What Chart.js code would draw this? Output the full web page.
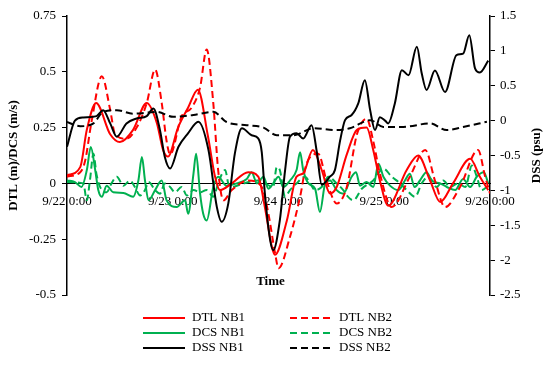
<!DOCTYPE html>
<html>
<head>
<meta charset="utf-8">
<script src="https://cdn.jsdelivr.net/npm/chart.js"></script>
<style>
  body { margin: 0; background: #fff; }
  #wrap { width: 550px; height: 365px; position: relative; }
</style>
</head>
<body>
<div id="wrap"><canvas id="grafico"></canvas></div>
<script>
// eje x en horas desde 9/22 0:00
const xTickHours = [0, 24, 48, 72, 96];
const xTickLabels = ["9/22 0:00", "9/23 0:00", "9/24 0:00", "9/25 0:00", "9/26 0:00"];
const leftTicks = [-0.5, -0.25, 0, 0.25, 0.5, 0.75];
const leftTickLabels = ["-0.5", "-0.25", "0", "0.25", "0.5", "0.75"];
const rightTicks = [-2.5, -2, -1.5, -1, -0.5, 0, 0.5, 1, 1.5];
const rightTickLabels = ["-2.5", "-2", "-1.5", "-1", "-0.5", "0", "0.5", "1", "1.5"];

const dtlNb1Hours = [0, 3.0, 4.5, 6.6, 9.8, 12.0, 15.0, 18.1, 20.4, 21.8, 22.9, 25.2, 27.5, 29.7, 32.0, 33.6, 34.7, 37.4, 41.1, 43.4, 44.9, 46.5, 47.2, 49.9, 52.1, 53.6, 55.8, 57.8, 59.7, 61.2, 63.5, 65.8, 68.0, 69.5, 71.0, 72.9, 77.1, 79.7, 82.4, 84.7, 87.6, 91.5, 93.7, 95.6];
const dtlNb1 = [0.036, 0.073, 0.24, 0.36, 0.22, 0.185, 0.24, 0.36, 0.27, 0.15, 0.12, 0.25, 0.34, 0.42, 0.21, 0.03, -0.03, 0, 0.05, 0.03, -0.106, -0.285, -0.32, -0.166, 0.03, 0.045, 0.15, 0.06, -0.045, -0.016, 0.13, 0.24, 0.25, 0.15, 0.013, -0.1, 0.06, 0.125, 0.013, -0.083, 0, 0.11, 0.03, -0.03];

const dtlNb2Hours = [0, 3.0, 4.1, 5.6, 7.9, 9.8, 10.9, 13.5, 15.8, 18.1, 20.0, 21.5, 22.6, 23.4, 26.0, 28.3, 30.2, 31.7, 33.2, 34.3, 35.5, 37.4, 41.1, 44.2, 45.7, 47.2, 48.0, 50.6, 52.9, 54.4, 57.0, 58.9, 61.2, 63.5, 65.8, 68.0, 69.5, 71.0, 73.7, 77.8, 81.3, 83.5, 85.8, 89.2, 93.3, 94.9, 96.0];
const dtlNb2 = [0.03, 0.05, 0.1, 0.28, 0.48, 0.33, 0.22, 0.2, 0.25, 0.36, 0.51, 0.36, 0.19, 0.13, 0.3, 0.34, 0.43, 0.6, 0.36, 0.06, -0.076, -0.03, 0.013, -0.016, -0.135, -0.31, -0.38, -0.24, -0.06, 0.09, 0.133, 0.013, -0.09, -0.016, 0.22, 0.29, 0.19, 0.045, -0.106, 0.03, 0.15, 0.013, -0.106, -0.016, 0.15, 0.03, -0.045];

const dcsNb1Hours = [0, 1.8, 3.3, 4.5, 5.4, 6.4, 7.1, 7.9, 9.0, 10.5, 12.8, 15.0, 16.2, 17.0, 17.7, 18.5, 20.0, 21.5, 22.6, 24.9, 26.8, 27.5, 28.7, 29.3, 30.2, 30.9, 31.7, 33.2, 34.3, 36.2, 38.5, 40.8, 41.9, 43.1, 44.6, 45.7, 46.8, 48.0, 49.1, 50.6, 52.1, 52.9, 53.6, 54.8, 56.3, 57.4, 58.6, 59.7, 61.2, 62.7, 64.6, 65.6, 66.5, 68.0, 69.5, 70.7, 71.8, 73.3, 75.2, 76.7, 77.8, 78.9, 80.1, 81.6, 82.8, 84.7, 86.2, 88.1, 89.9, 91.5, 93.0, 94.6, 95.6];
const dcsNb1 = [0.013, 0.006, -0.016, 0.06, 0.163, 0.06, -0.03, -0.06, -0.01, -0.04, -0.043, -0.06, 0.013, 0.118, 0.013, -0.076, -0.03, 0.013, -0.076, -0.106, -0.076, -0.136, 0.043, 0.133, -0.046, -0.135, -0.166, -0.016, 0.03, -0.01, 0, 0.02, 0.05, 0, 0.03, -0.024, 0, 0.03, -0.016, 0.013, 0.06, 0.14, 0.06, 0, -0.024, -0.128, 0, 0.013, -0.03, -0.046, 0.03, 0.05, -0.01, 0.006, -0.016, 0.088, 0.03, -0.01, -0.03, 0.013, 0.043, -0.016, 0.013, 0.05, 0.013, 0, -0.016, -0.03, 0.02, -0.016, 0.03, 0.05, 0];

const dcsNb2Hours = [0, 3.7, 4.5, 5.2, 6.0, 6.7, 7.9, 9.0, 10.1, 11.3, 12.8, 14.3, 15.4, 16.6, 17.7, 18.5, 20.0, 21.1, 22.2, 23.4, 24.5, 26.0, 27.2, 28.7, 30.2, 31.7, 33.2, 34.3, 35.1, 35.9, 36.6, 37.4, 40.0, 43.4, 46.8, 47.6, 48.3, 49.5, 50.6, 52.1, 54.0, 55.2, 56.3, 57.8, 59.3, 61.2, 62.7, 63.5, 65.0, 66.9, 69.5, 71.8, 73.7, 75.6, 77.1, 79.0, 80.5, 82.0, 83.9, 85.4, 86.9, 88.8, 90.4, 91.9, 93.0, 94.1, 95.3];
const dcsNb2 = [0.006, 0, -0.076, 0.013, 0.133, 0.04, -0.03, -0.04, 0, 0.03, -0.01, 0.013, -0.016, -0.054, -0.03, 0.006, -0.03, -0.046, 0, -0.016, -0.04, -0.016, -0.054, -0.03, -0.04, -0.03, -0.06, 0, 0.04, 0.06, 0, -0.016, 0, 0.013, -0.016, 0.073, 0.06, -0.06, -0.03, 0, 0.03, 0, -0.03, -0.016, 0.03, 0, -0.03, -0.054, -0.076, -0.024, 0.013, 0.066, 0.03, 0, -0.03, -0.06, 0, 0.03, -0.016, 0.013, -0.016, 0, -0.016, 0.08, 0.03, -0.03, -0.016];

const dssNb1Hours = [0, 1.8, 3.7, 6.7, 8.2, 9.8, 11.3, 13.5, 15.8, 18.1, 19.6, 21.1, 22.2, 23.4, 25.3, 27.5, 29.8, 32.1, 34.0, 35.1, 36.6, 38.1, 39.7, 41.9, 43.4, 44.2, 44.9, 46.1, 46.8, 48.3, 49.5, 50.6, 52.1, 53.6, 55.5, 56.7, 57.8, 59.7, 60.8, 62.0, 63.1, 64.6, 66.1, 67.6, 68.8, 69.9, 71.0, 72.2, 72.9, 74.4, 76.0, 77.5, 79.4, 80.5, 81.6, 83.5, 85.8, 88.4, 89.9, 91.3, 92.6, 93.7, 95.6];
const dssNb1 = [-0.375, 0, 0.046, 0.065, 0.15, -0.04, -0.23, -0.04, 0.03, 0.065, 0.175, -0.136, -0.52, -0.685, -0.375, -0.18, -0.017, -0.42, -1.236, -1.45, -1.19, -0.47, -0.11, -0.21, -0.255, -0.45, -1.04, -1.71, -1.857, -1.43, -0.71, -0.23, -0.18, -0.255, -0.065, -0.45, -0.92, -0.8, -0.71, -0.28, 0.007, 0.08, 0.246, 0.58, 0.15, -0.136, 0.05, 0, -0.04, 0.246, 0.724, 0.65, 1.06, 0.68, 0.44, 0.72, 0.41, 0.94, 0.96, 1.225, 0.75, 0.69, 0.86];

const dssNb2Hours = [0, 3.0, 6.0, 8.2, 11.3, 15.0, 20.4, 24.1, 28.7, 33.2, 36.2, 40.8, 44.6, 47.6, 51.4, 55.9, 61.2, 64.2, 68.8, 71.8, 76.3, 82.4, 86.2, 89.9, 95.3];
const dssNb2 = [-0.02, -0.08, -0.04, 0.126, 0.15, 0.1, 0.126, 0.055, 0.08, 0.126, -0.02, -0.065, -0.1, -0.21, -0.21, -0.11, -0.136, -0.11, 0.007, -0.09, -0.09, -0.04, -0.136, -0.09, -0.017];

const fuente = "'Liberation Serif', 'Times New Roman', serif";
const rojo = "#ff0000";
const verde = "#00b050";
const negro = "#000000";
const guiones = [7, 4];

function puntos(horas, valores) {
    return horas.map((h, i) => ({ x: h, y: valores[i] }));
}

function serie(label, horas, valores, color, dashed, eje) {
    return {
        label: label,
        data: puntos(horas, valores),
        borderColor: color,
        backgroundColor: color,
        borderWidth: 2,
        borderDash: dashed ? guiones : [],
        pointRadius: 0,
        cubicInterpolationMode: "monotone",
        fill: false,
        yAxisID: eje,
    };
}

const datasets = [
    serie("DSS NB1", dssNb1Hours, dssNb1, negro, false, "y1"),
    serie("DSS NB2", dssNb2Hours, dssNb2, negro, true, "y1"),
    serie("DTL NB1", dtlNb1Hours, dtlNb1, rojo, false, "y"),
    serie("DTL NB2", dtlNb2Hours, dtlNb2, rojo, true, "y"),
    serie("DCS NB1", dcsNb1Hours, dcsNb1, verde, false, "y"),
    serie("DCS NB2", dcsNb2Hours, dcsNb2, verde, true, "y"),
];

// leyenda en dos columnas + textos sueltos
const extras = {
    id: "extras",
    afterDraw(chart) {
        const ctx = chart.ctx;
        const area = chart.chartArea;
        ctx.save();
        ctx.fillStyle = "#000";
        ctx.font = "bold 13px " + fuente;
        ctx.textAlign = "center";
        ctx.textBaseline = "middle";
        ctx.fillText("Time", (area.left + area.right) / 2 - 8, area.bottom - 13);

        ctx.save();
        ctx.translate(537, (area.top + area.bottom) / 2);
        ctx.rotate(-Math.PI / 2);
        ctx.fillText("DSS (psu)", 0, 0);
        ctx.restore();

        const columnas = [
            { x: 143, names: ["DTL NB1", "DCS NB1", "DSS NB1"] },
            { x: 290, names: ["DTL NB2", "DCS NB2", "DSS NB2"] },
        ];
        ctx.font = "13px " + fuente;
        ctx.textAlign = "left";
        columnas.forEach((col) => {
            col.names.forEach((name, i) => {
                const ds = chart.data.datasets.find((d) => d.label === name);
                const y = area.bottom + 23 + i * 15;
                ctx.beginPath();
                ctx.strokeStyle = ds.borderColor;
                ctx.lineWidth = 2;
                ctx.setLineDash(ds.borderDash);
                ctx.moveTo(col.x, y);
                ctx.lineTo(col.x + 42, y);
                ctx.stroke();
                ctx.setLineDash([]);
                ctx.fillText(name, col.x + 49, y);
            });
        });
        ctx.restore();
    },
};

const ctx = document.getElementById("grafico").getContext("2d");
new Chart(ctx, {
    type: "line",
    data: { datasets: datasets },
    plugins: [extras],
    options: {
        responsive: true,
        maintainAspectRatio: false,
        animation: false,
        layout: { padding: { top: 16, bottom: 70, left: 0, right: 0 } },
        plugins: { legend: { display: false }, tooltip: { enabled: false } },
        scales: {
            x: {
                type: "linear",
                axis: "x",
                position: { y: 0 },
                min: 0,
                max: 96,
                afterBuildTicks: (s) => { s.ticks = xTickHours.map((v) => ({ value: v })); },
                grid: { display: false },
                border: { display: true, color: "#000", width: 1 },
                ticks: {
                    autoSkip: false,
                    maxRotation: 0,
                    padding: 2,
                    color: "#000",
                    font: { family: fuente, size: 13 },
                    callback: (v) => xTickLabels[xTickHours.indexOf(v)],
                },
            },
            y: {
                position: "left",
                min: -0.5,
                max: 0.75,
                afterBuildTicks: (s) => { s.ticks = leftTicks.map((v) => ({ value: v })); },
                afterFit: (s) => { s.width = 67; },
                grid: { drawOnChartArea: false, drawTicks: true, tickLength: 5, color: "#000" },
                border: { color: "#000", width: 1.5 },
                ticks: {
                    padding: 6,
                    color: "#000",
                    font: { family: fuente, size: 13 },
                    callback: (v) => leftTickLabels[leftTicks.indexOf(v)],
                },
                title: {
                    display: true,
                    text: "DTL (m)/DCS (m/s)",
                    color: "#000",
                    font: { family: fuente, size: 13, weight: "bold" },
                    padding: { top: 6, bottom: 4 },
                },
            },
            y1: {
                position: "right",
                min: -2.5,
                max: 1.5,
                afterBuildTicks: (s) => { s.ticks = rightTicks.map((v) => ({ value: v })); },
                afterFit: (s) => { s.width = 60; },
                grid: { drawOnChartArea: false, drawTicks: true, tickLength: 5, color: "#000" },
                border: { color: "#000", width: 1.5 },
                ticks: {
                    padding: 5,
                    color: "#000",
                    font: { family: fuente, size: 13 },
                    callback: (v) => rightTickLabels[rightTicks.indexOf(v)],
                },
            },
        },
    },
});
</script>
</body>
</html>
